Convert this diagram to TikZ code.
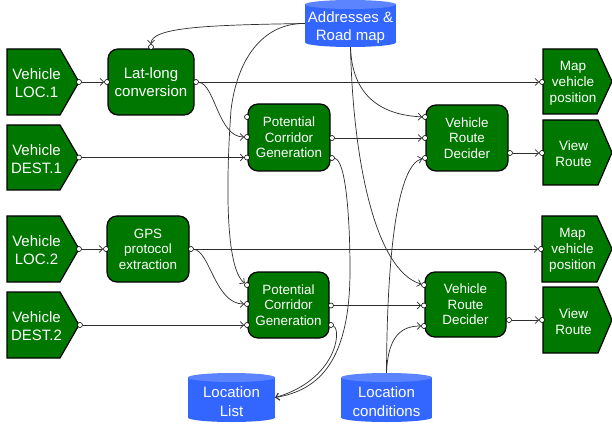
\documentclass[tikz,border=0pt]{standalone}
\usepackage{fontspec}
\setmainfont{Liberation Sans}
\usetikzlibrary{arrows.meta}

\definecolor{boxgreen}{RGB}{0,120,0}
\definecolor{dbblue}{RGB}{51,102,255}
\definecolor{dbtop}{RGB}{92,132,255}
\definecolor{wirecol}{RGB}{45,45,45}

% flag-shaped terminal: name, left, corner, tip, top, bottom, text style, text
\newcommand\flagbox[8]{%
  \path[flagshape] (#2,#5) -- (#3,#5) -- (#4,{(#5+#6)/2}) -- (#3,#6) -- (#2,#6) -- cycle;
  \node[#7] (#1) at ({(#2+#3)/2+3},{(#5+#6)/2+1.5}) {#8};
}

% data store cylinder: shape name, label name, centre x, half width, top, bottom, text
\newcommand\storecyl[7]{%
  \fill[dbblue] (#3-#4,#5+4.5) rectangle (#3+#4,#6-4.5);
  \fill[dbblue] (#3,#6-4.5) ellipse [x radius=#4, y radius=4.5];
  \fill[dbtop] (#3,#5+4.5) ellipse [x radius=#4, y radius=4.5];
  \node[shape=rectangle, inner sep=0, minimum width={2*#4}, minimum height={#6-#5}] (#1) at (#3,{(#5+#6)/2}) {};
  \node[storetext] (#2) at (#3,{(#5+#6)/2+4}) {#7};
}

\begin{document}
\begin{tikzpicture}[x=1pt, y=-1pt,
  proc/.style={draw=black, line width=1.2pt, fill=boxgreen, rounded corners=10pt,
    text=white, align=center, inner sep=0, font=\fontsize{13.4}{15.6}\selectfont},
  bigproc/.style={proc, font=\fontsize{15}{18}\selectfont},
  flagshape/.style={draw=black, line width=1.2pt, fill=boxgreen},
  intext/.style={text=white, align=center, inner sep=0, font=\fontsize{15}{18}\selectfont},
  outtext/.style={text=white, align=center, inner sep=0, font=\fontsize{13.5}{16}\selectfont},
  storetext/.style={text=white, align=center, inner sep=0, font=\fontsize{15}{18.5}\selectfont},
  port/.style={circle, draw=black, fill=white, line width=0.6pt, minimum size=5pt, inner sep=0},
  wire/.style={draw=wirecol, line width=0.7pt},
  flow/.style={wire, -{Straight Barb[length=3.5pt,width=7pt]}},
]
\useasboundingbox (0,0) rectangle (612,427);
\fill[white] (0,0) rectangle (612,427);

% ---- data stores ----
\storecyl{addr}{addrtext}{350.5}{45.5}{0}{47}{Addresses \&\\Road map}
\storecyl{loclist}{loclisttext}{231.5}{43.5}{373}{422}{Location\\List}
\storecyl{loccond}{loccondtext}{386.5}{45.5}{373}{422}{Location\\conditions}

% ---- input terminals ----
\flagbox{vloc1}{7}{60}{79}{49}{115}{intext}{Vehicle\\LOC.1}
\flagbox{vdest1}{7}{60}{79}{125}{190}{intext}{Vehicle\\DEST.1}
\flagbox{vloc2}{7}{60}{79}{216}{282}{intext}{Vehicle\\LOC.2}
\flagbox{vdest2}{7}{60}{79}{292}{358}{intext}{Vehicle\\DEST.2}

% ---- output terminals ----
\flagbox{mvp1}{543}{597}{612}{49}{114}{outtext}{Map\\vehicle\\position}
\flagbox{view1}{543}{598}{612}{120}{185}{outtext}{View\\Route}
\flagbox{mvp2}{542}{597}{612}{216}{282}{outtext}{Map\\vehicle\\position}
\flagbox{view2}{543}{598}{612}{287}{353}{outtext}{View\\Route}

% ---- processes ----
\node[bigproc, minimum width=86pt, minimum height=66pt] (latlong) at (151,82) {Lat-long\\conversion};
\node[proc, minimum width=82pt, minimum height=66pt] (gps) at (148,249) {GPS\\protocol\\extraction};
\node[proc, minimum width=82pt, minimum height=67pt] (pcg1) at (289,137.5) {Potential\\Corridor\\Generation};
\node[proc, minimum width=81pt, minimum height=66pt] (pcg2) at (288.5,305) {Potential\\Corridor\\Generation};
\node[proc, minimum width=82pt, minimum height=66pt] (vrd1) at (467,138) {Vehicle\\Route\\Decider};
\node[proc, minimum width=81pt, minimum height=65pt] (vrd2) at (465.5,304.5) {Vehicle\\Route\\Decider};

% ---- ports ----
\node[port] (vloc1-o) at (79,82) {};
\node[port] (vdest1-o) at (79,157.5) {};
\node[port] (vloc2-o) at (79,249) {};
\node[port] (vdest2-o) at (80,325) {};

\node[port] (latlong-i) at (107,82) {};
\node[port] (latlong-t) at (151,47) {};
\node[port] (latlong-o) at (196,82) {};

\node[port] (gps-i) at (106,249) {};
\node[port] (gps-o) at (191,249) {};

\node[port] (pcg1-a) at (247,117) {};
\node[port] (pcg1-b) at (247,137) {};
\node[port] (pcg1-c) at (247,157.5) {};
\node[port] (pcg1-o1) at (332,138) {};
\node[port] (pcg1-o2) at (332,158) {};

\node[port] (pcg2-a) at (247,285) {};
\node[port] (pcg2-b) at (247,304) {};
\node[port] (pcg2-c) at (247,325) {};
\node[port] (pcg2-o1) at (331,305.5) {};
\node[port] (pcg2-o2) at (331,325) {};

\node[port] (vrd1-a) at (425,117) {};
\node[port] (vrd1-b) at (425,138) {};
\node[port] (vrd1-c) at (425,158) {};
\node[port] (vrd1-o) at (510,153) {};

\node[port] (vrd2-a) at (424,285) {};
\node[port] (vrd2-b) at (424,305.5) {};
\node[port] (vrd2-c) at (424,326) {};
\node[port] (vrd2-o) at (509,320) {};

\node[port] (mvp1-i) at (542,82) {};
\node[port] (view1-i) at (542,153) {};
\node[port] (mvp2-i) at (541,249) {};
\node[port] (view2-i) at (542,320) {};

% ---- straight flows ----
\draw[flow] (vloc1-o) -- (latlong-i);
\draw[flow] (vloc2-o) -- (gps-i);
\draw[flow] (latlong-o) -- (mvp1-i);
\draw[flow] (gps-o) -- (mvp2-i);
\draw[flow] (vdest1-o) -- (pcg1-c);
\draw[flow] (vdest2-o) -- (pcg2-c);
\draw[flow] (pcg1-o1) -- (vrd1-b);
\draw[flow] (pcg2-o1) -- (vrd2-b);
\draw[flow] (vrd1-o) -- (view1-i);
\draw[flow] (vrd2-o) -- (view2-i);

% ---- curved flows ----
\draw[flow] (latlong-o) .. controls (215,84) and (218,137) .. (pcg1-b);
\draw[flow] (gps-o) .. controls (210,251) and (215,304) .. (pcg2-b);

\draw[flow] (addr.west) .. controls (210,25) and (151,27) .. (latlong-t);
\draw[flow] (addr.west) .. controls (262,23) and (237,60) .. (231,110)
  .. controls (226,180) and (225,268) .. (pcg2-a);
\draw[flow] (addr.south) .. controls (352,95) and (380,115) .. (vrd1-a);
\draw[flow] (addr.south) .. controls (353,160) and (375,270) .. (vrd2-a);

\draw[flow] (loccond.north) .. controls (387,250) and (398,165) .. (vrd1-c);
\draw[flow] (loccond.north) .. controls (388,335) and (402,326) .. (vrd2-c);

\draw[flow] (pcg1-o2) .. controls (346,160) and (350,220) .. (350,270)
  .. controls (350,360) and (320,390) .. (loclist.east);
\draw[flow] (pcg2-o2) .. controls (342,330) and (336,380) .. (loclist.east);
\end{tikzpicture}
\end{document}
